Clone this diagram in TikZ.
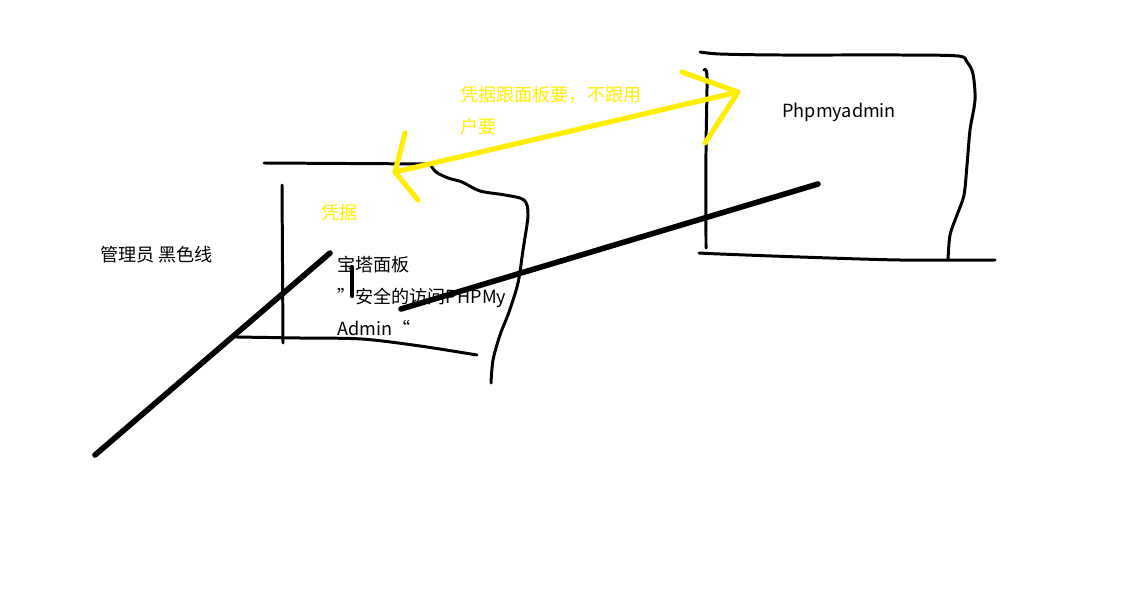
\documentclass[tikz,border=0pt]{standalone}
\usepackage{fontspec}
\setmainfont{Noto Sans CJK SC}
\definecolor{penyellow}{RGB}{255,238,0}
\tikzset{
  pen/.style={line width=1.7pt, line cap=round, line join=round},
  fatpen/.style={line width=3.2pt, line cap=round},
  hipen/.style={line width=2.9pt, line cap=round, line join=round, draw=penyellow},
  memo/.style={inner sep=0pt, anchor=west, font=\fontsize{10.3pt}{12pt}\selectfont}
}
\begin{document}
\begin{tikzpicture}[x=0.02cm, y=-0.02cm]
\useasboundingbox[fill=white] (0,0) rectangle (1128,604);

% 왼쪽 박스 (宝塔面板)
\draw[pen] (264,163) -- (430,164);
\draw[pen] plot[smooth] coordinates {(430,164) (436,172) (448,178) (462,182) (480,191) (505,195) (524,200) (528,215) (523,250) (518,283) (509,312) (500,335) (493,360) (491,383)};
\draw[pen] (282,185) -- (283,343); % 세로선
\draw[pen] plot[smooth] coordinates {(236,337) (300,338) (362,339) (420,346) (477,355)};

% 오른쪽 박스 (Phpmyadmin)
\draw[pen] plot[smooth] coordinates {(700,52) (720,54) (780,55) (900,55) (958,56) (967,62) (973,74) (975,100) (970,130) (967,165) (964,195) (957,215) (950,235) (948,260)};
\draw[pen] plot[smooth] coordinates {(704,70) (707,77) (706,150) (706,248)};
\draw[pen] plot[smooth] coordinates {(699,253) (720,254) (800,257) (900,260) (995,260)};

% 노란 화살표
\draw[hipen] (395,172) -- (738,92);
\draw[hipen] (405,133) -- (395,172) -- (418,200);
\draw[hipen] (682,72) -- (738,92) -- (705,143);

% 검은 선
\draw[fatpen] (95,455) -- (330,253);
\draw[fatpen] (401,309) -- (818,184);
\draw[line width=2.4pt, line cap=round] (352,267) -- (352,296);

% 글자
\node[memo, text=penyellow] (cred) at (321,213) {凭据};
\node[memo] (panel) at (337,265) {宝塔面板};
\node[memo] (safe) at (337,298) {”安全的访问PHPMy};
\node[memo] (admin) at (337,328) {Admin“};
\node[memo] (black) at (100,255) {管理员 黑色线};
\node[memo, text=penyellow] (note1) at (460,95) {凭据跟面板要，不跟用};
\node[memo, text=penyellow] (note2) at (460,127) {户要};
\node[memo] (pma) at (782,112) {Phpmyadmin};
\end{tikzpicture}
\end{document}
